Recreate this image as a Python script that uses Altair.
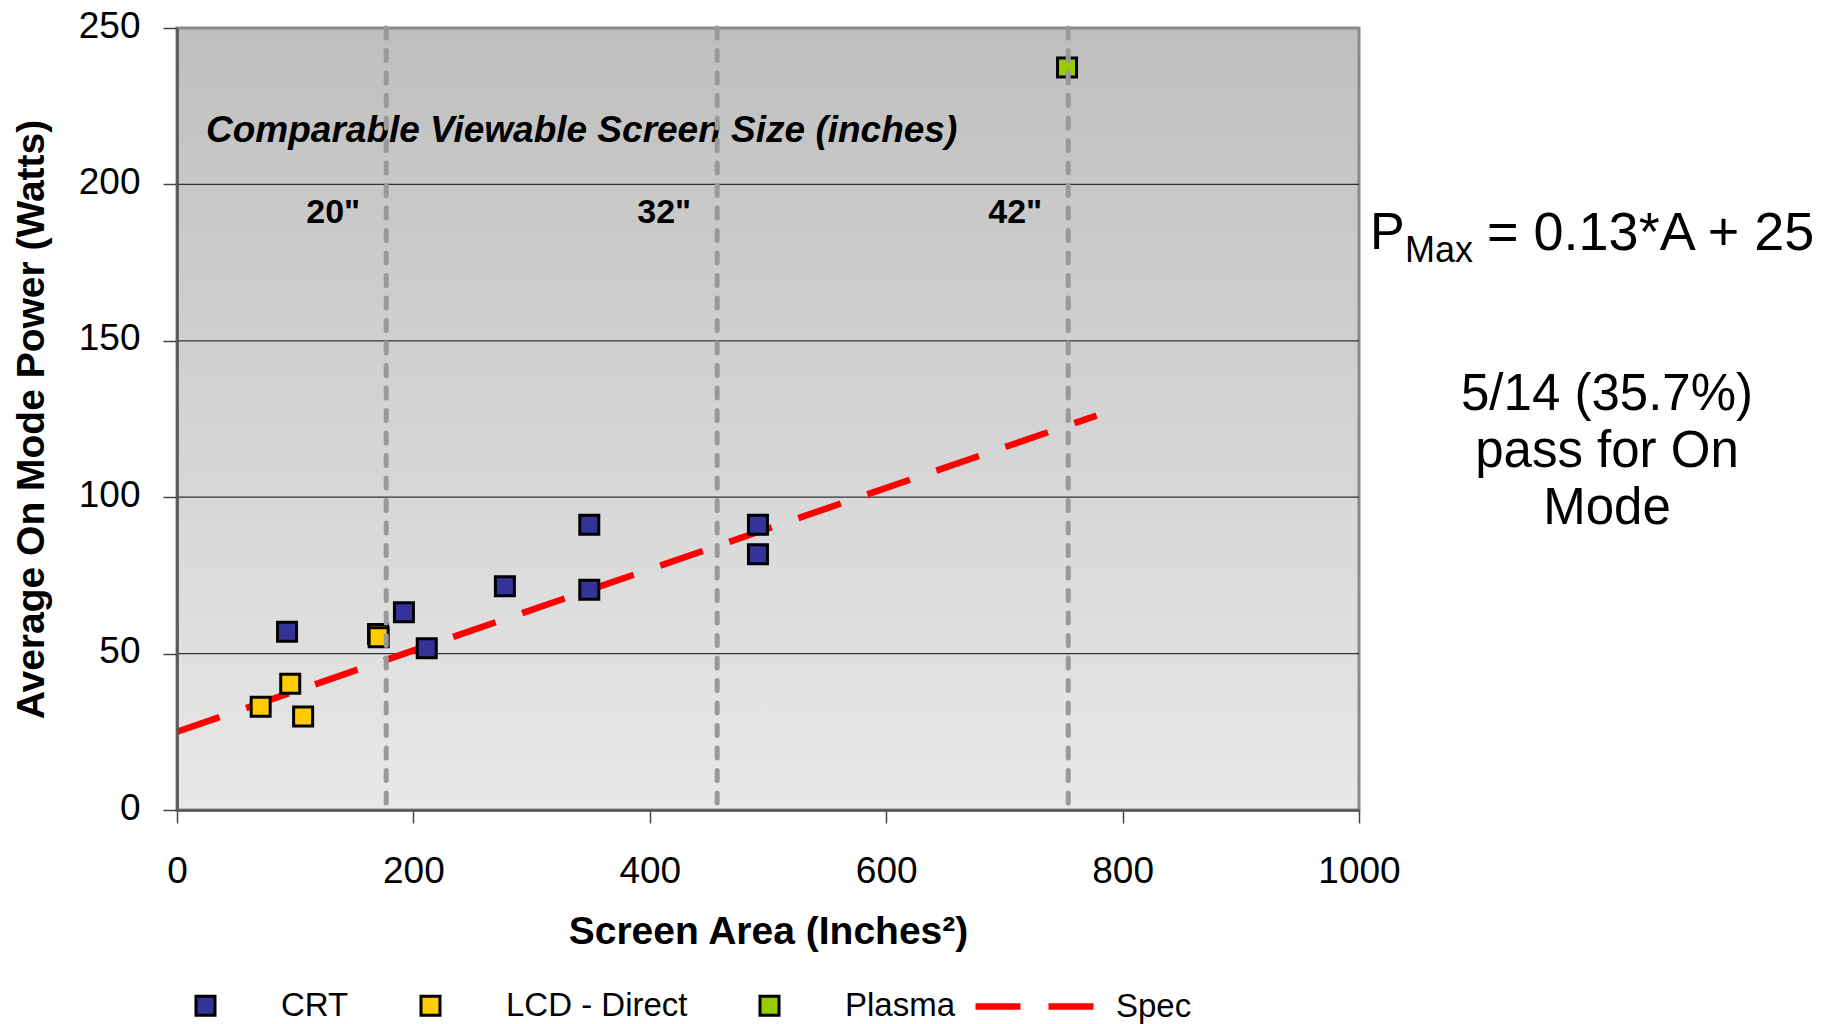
import altair as alt
import pandas as pd

# ---- data ----
crt_x = [93.1, 192.0, 211.3, 277.4, 348.8, 348.8, 491.5, 491.5]
crt_y = [57.0, 63.2, 51.7, 71.5, 91.2, 70.4, 91.2, 81.8]
lcd_x = [70.8, 95.8, 106.7, 170.1, 170.6]
lcd_y = [33.0, 40.4, 29.9, 56.3, 55.2]
plasma_x = [753.0]
plasma_y = [237.4]
spec_x = [0, 778]
spec_y = [25.0, 126.1]
size_x = [177, 457, 754]
size_labels = ['20"', '32"', '42"']
grid_y = [50, 100, 150, 200]
x_ticks = [0, 200, 400, 600, 800, 1000]
y_ticks = [0, 50, 100, 150, 200, 250]
series = ["CRT", "LCD - Direct", "Plasma"]
colors = ["#333399", "#FFCC00", "#99CC00"]
spec_name = ["Spec"]
annotation_title = "Comparable Viewable Screen Size (inches)"
formula_p = "P"
formula_sub = "Max"
formula_main = "= 0.13*A + 25"
pass_lines = ["5/14 (35.7%)", "pass for On", "Mode"]

FONT = "Liberation Sans"
W, H = 1182, 782

points = pd.DataFrame({
    "area": crt_x + lcd_x + plasma_x,
    "power": crt_y + lcd_y + plasma_y,
    "type": ["CRT"] * len(crt_x) + ["LCD - Direct"] * len(lcd_x) + ["Plasma"] * len(plasma_x),
})
spec = pd.DataFrame({"area": spec_x, "power": spec_y, "series": spec_name * len(spec_x)})
sizes = pd.DataFrame({"area": size_x, "label": size_labels})
grid = pd.DataFrame({"power": grid_y})
one = pd.DataFrame({"k": [0]})

xs = alt.Scale(domain=[0, 1000], nice=False, zero=False)
ys = alt.Scale(domain=[0, 250], nice=False, zero=False)

xaxis = alt.Axis(values=x_ticks, title="Screen Area (Inches²)", grid=False,
                 domainColor="#555555", domainWidth=2.5, tickColor="#444444",
                 tickWidth=1.5, tickSize=13, labelFont=FONT, labelFontSize=37,
                 labelColor="black", labelPadding=30, labelFlush=False,
                 labelOverlap=False, format="d",
                 titleFont=FONT, titleFontSize=39, titleFontWeight="bold",
                 titleColor="black", titleBaseline="alphabetic",
                 titleX=W / 2, titleY=133, zindex=1)
yaxis = alt.Axis(values=y_ticks, title="Average On Mode Power (Watts)", grid=False,
                 domainColor="#555555", domainWidth=2.5, tickColor="#444444",
                 tickWidth=1.5, tickSize=14, labelFont=FONT, labelFontSize=37,
                 labelColor="black", labelPadding=23, labelOffset=-2,
                 labelFlush=False, labelOverlap=False, format="d",
                 titleFont=FONT, titleFontSize=39, titleFontWeight="bold",
                 titleColor="black", titleBaseline="alphabetic",
                 titleX=-134, titleY=H / 2, zindex=1)


def X(f):
    return alt.X(f, type="quantitative", scale=xs, axis=xaxis)


def Y(f):
    return alt.Y(f, type="quantitative", scale=ys, axis=yaxis)


gradient = {
    "gradient": "linear", "x1": 0, "x2": 0, "y1": 0, "y2": 1,
    "stops": [{"offset": 0, "color": "#bfbfbf"}, {"offset": 1, "color": "#e8e8e8"}],
}

bg = alt.Chart(one).mark_rect(fill=gradient, stroke="#8a8a8a", strokeWidth=3).encode(
    x=alt.value(0), x2=alt.value("width"), y=alt.value(0), y2=alt.value("height"))

grid_rules = alt.Chart(grid).mark_rule(color="#333333", strokeWidth=1.3).encode(
    y=Y("power"), x=alt.value(0), x2=alt.value("width"))

title_txt = alt.Chart(one).mark_text(
    text=annotation_title, font=FONT, fontSize=37, fontWeight="bold", fontStyle="italic",
    align="left", baseline="alphabetic", color="black").encode(
    x=alt.value(29), y=alt.value(114))

size_txt = alt.Chart(sizes).mark_text(
    font=FONT, fontSize=34, fontWeight="bold", align="right", baseline="alphabetic",
    dx=-26, color="black").encode(
    x=X("area"), y=alt.value(195), text="label:N")

spec_line = alt.Chart(spec).mark_line(color="#FF0000", strokeWidth=6.5).encode(
    x=X("area"), y=Y("power"),
    strokeDash=alt.StrokeDash(
        "series:N", scale=alt.Scale(domain=spec_name, range=[[45, 28]]),
        legend=alt.Legend(orient="none", legendX=795, legendY=916, direction="horizontal",
                          title=None, labelFont=FONT, labelFontSize=33, labelColor="black",
                          labelLimit=400, labelOffset=19, padding=0, symbolType="stroke",
                          symbolSize=13924, symbolStrokeColor="#FF0000",
                          symbolStrokeWidth=6.5)))

pts = alt.Chart(points).mark_point(shape="square", filled=True, size=361, stroke="black",
                                   strokeWidth=3, opacity=1).encode(
    x=X("area"), y=Y("power"),
    color=alt.Color("type:N", scale=alt.Scale(domain=series, range=colors),
                    legend=alt.Legend(orient="none", legendX=12, legendY=961,
                                      direction="horizontal", title=None,
                                      labelFont=FONT, labelFontSize=33, labelColor="black",
                                      labelLimit=400, labelOffset=59, columnPadding=65,
                                      padding=0, symbolSize=361, symbolType="square",
                                      symbolStrokeColor="#000000", symbolStrokeWidth=3,
                                      symbolOpacity=1)))

size_rules = alt.Chart(sizes).mark_rule(color="#999999", strokeWidth=5,
                                        strokeDash=[10, 12.5], strokeCap="round").encode(
    x=X("area"))

p_txt = alt.Chart(one).mark_text(text=formula_p, font=FONT, fontSize=52, align="left",
                                 baseline="alphabetic", color="black").encode(
    x=alt.value(1193), y=alt.value(221))
sub_txt = alt.Chart(one).mark_text(text=formula_sub, font=FONT, fontSize=36, align="left",
                                   baseline="alphabetic", color="black").encode(
    x=alt.value(1228), y=alt.value(234))
main_txt = alt.Chart(one).mark_text(text=formula_main, font=FONT, fontSize=54, align="left",
                                    baseline="alphabetic", color="black").encode(
    x=alt.value(1310), y=alt.value(222))
pass_txt = alt.Chart(one).mark_text(text=pass_lines, font=FONT, fontSize=51, align="center",
                                    baseline="alphabetic", lineHeight=57, color="black").encode(
    x=alt.value(1430), y=alt.value(382))

chart = alt.layer(bg, grid_rules, title_txt, size_txt, spec_line, pts, size_rules,
                  p_txt, sub_txt, main_txt, pass_txt).properties(
    width=W, height=H,
    autosize=alt.AutoSizeParams(type="none"),
    padding={"left": 177, "top": 28, "right": 1833 - 177 - W, "bottom": 1024 - 28 - H},
    background="white",
).configure_view(stroke=None).configure(font=FONT)

chart.save("out.html", embed_options={"renderer": "svg", "actions": False})
